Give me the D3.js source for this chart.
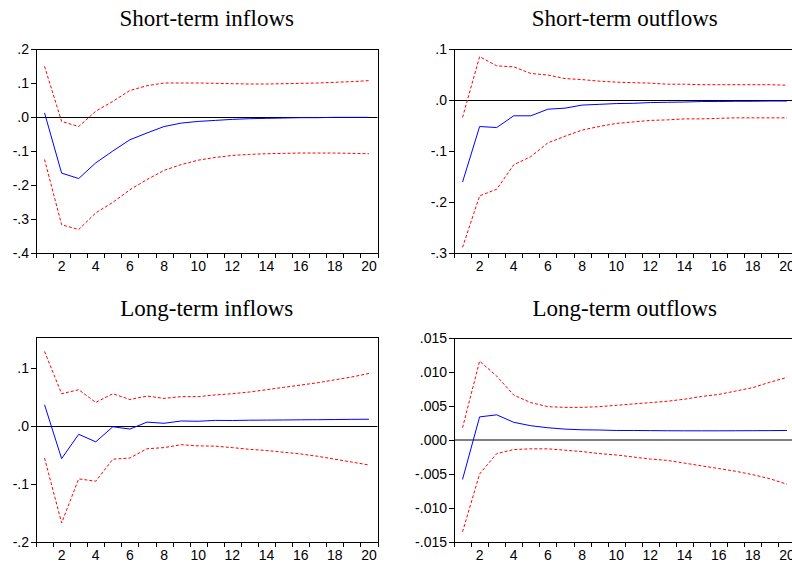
<!DOCTYPE html>
<html>
<head>
<meta charset="utf-8">
<title>Impulse responses</title>
<script src="https://d3js.org/d3.v7.min.js"></script>
<style>
  body { margin: 0; background: #fff; }
  svg { display: block; }
  .tick text { font-family: "Liberation Sans", Arial, sans-serif; font-size: 14px; fill: #000; }
  .tick line { shape-rendering: crispEdges; }
  .title { font-family: "Liberation Serif", "Times New Roman", serif; font-size: 23px; fill: #000; }
</style>
</head>
<body>
<div id="chart"></div>
<script>
// periods 1..20
const periods = d3.range(1, 21);

// Short-term inflows
const stInResp = [0.012, -0.165, -0.181, -0.135, -0.100, -0.067, -0.047, -0.028, -0.018, -0.013, -0.010, -0.007, -0.005, -0.004, -0.003, -0.002, -0.002, -0.001, -0.001, -0.001];
const stInUpper = [0.149, -0.013, -0.028, 0.017, 0.046, 0.078, 0.092, 0.100, 0.100, 0.100, 0.099, 0.098, 0.097, 0.097, 0.098, 0.099, 0.100, 0.102, 0.104, 0.107];
const stInLower = [-0.125, -0.317, -0.331, -0.282, -0.251, -0.214, -0.184, -0.157, -0.140, -0.127, -0.119, -0.113, -0.110, -0.108, -0.107, -0.106, -0.106, -0.106, -0.107, -0.108];

// Short-term outflows
const stOutResp = [-0.161, -0.052, -0.054, -0.031, -0.031, -0.018, -0.016, -0.010, -0.0085, -0.007, -0.0065, -0.005, -0.0045, -0.004, -0.003, -0.003, -0.0025, -0.0025, -0.002, -0.002];
const stOutUpper = [-0.034, 0.085, 0.067, 0.065, 0.052, 0.049, 0.042, 0.040, 0.037, 0.035, 0.034, 0.033, 0.031, 0.031, 0.030, 0.030, 0.030, 0.030, 0.030, 0.029];
const stOutLower = [-0.289, -0.188, -0.175, -0.127, -0.111, -0.084, -0.071, -0.059, -0.052, -0.046, -0.043, -0.040, -0.039, -0.037, -0.037, -0.036, -0.035, -0.035, -0.035, -0.035];

// Long-term inflows
const ltInResp = [0.037, -0.056, -0.014, -0.027, -0.001, -0.005, 0.007, 0.005, 0.009, 0.0085, 0.010, 0.0098, 0.0103, 0.0105, 0.0107, 0.011, 0.0112, 0.0115, 0.0118, 0.012];
const ltInUpper = [0.129, 0.056, 0.063, 0.041, 0.056, 0.046, 0.052, 0.048, 0.051, 0.051, 0.054, 0.056, 0.059, 0.063, 0.067, 0.071, 0.075, 0.080, 0.085, 0.091];
const ltInLower = [-0.055, -0.167, -0.091, -0.095, -0.057, -0.055, -0.039, -0.037, -0.032, -0.034, -0.0345, -0.037, -0.040, -0.042, -0.045, -0.048, -0.052, -0.057, -0.062, -0.067];

// Long-term outflows
const ltOutResp = [-0.0058, 0.0034, 0.0037, 0.0026, 0.0021, 0.0018, 0.0016, 0.0015, 0.00147, 0.0014, 0.0014, 0.00138, 0.00136, 0.00135, 0.00135, 0.00135, 0.00136, 0.00137, 0.00138, 0.0014];
const ltOutUpper = [0.0018, 0.0116, 0.0094, 0.0066, 0.0055, 0.0049, 0.0048, 0.0048, 0.0049, 0.0051, 0.0053, 0.0055, 0.0057, 0.0060, 0.0064, 0.0067, 0.0072, 0.0077, 0.0085, 0.0092];
const ltOutLower = [-0.0135, -0.0050, -0.0020, -0.0014, -0.0013, -0.0013, -0.0015, -0.0017, -0.0020, -0.0022, -0.0025, -0.0028, -0.0030, -0.0034, -0.0038, -0.0042, -0.0046, -0.0051, -0.0057, -0.0065];

const width = 792, height = 565;
const svg = d3.select("#chart").append("svg")
    .attr("width", width)
    .attr("height", height);

const panels = [
  { title: "Short-term inflows", resp: stInResp, upper: stInUpper, lower: stInLower,
    domain: [-0.4, 0.2], ticks: [-0.4, -0.3, -0.2, -0.1, 0, 0.1, 0.2], fmt: ".1f",
    x0: 36, y0: 49, y1: 253, titleY: 26, zero: "#000", zeroW: 1 },
  { title: "Short-term outflows", resp: stOutResp, upper: stOutUpper, lower: stOutLower,
    domain: [-0.3, 0.1], ticks: [-0.3, -0.2, -0.1, 0, 0.1], fmt: ".1f",
    x0: 454, y0: 49, y1: 253, titleY: 26, zero: "#000", zeroW: 1 },
  { title: "Long-term inflows", resp: ltInResp, upper: ltInUpper, lower: ltInLower,
    domain: [-0.2, 0.154], ticks: [-0.2, -0.1, 0, 0.1], fmt: ".1f",
    x0: 36, y0: 337, y1: 542, titleY: 315.5, zero: "#000", zeroW: 1 },
  { title: "Long-term outflows", resp: ltOutResp, upper: ltOutUpper, lower: ltOutLower,
    domain: [-0.015, 0.015], ticks: [-0.015, -0.010, -0.005, 0, 0.005, 0.010, 0.015], fmt: ".3f",
    x0: 454, y0: 338, y1: 542, titleY: 315.5, zero: "#808080", zeroW: 2 }
];

const plotW = 341.5;

// EViews-style labels: ".2", "-.1", ".000"
function fmtTick(f) {
  return v => {
    let s = d3.format(f)(Math.abs(v) < 1e-12 ? 0 : v).replace("\u2212", "-");
    return s.replace(/^(-?)0\./, "$1.");
  };
}

panels.forEach(p => {
  const g = svg.append("g");

  const x = d3.scaleBand()
      .domain(periods)
      .range([p.x0, p.x0 + plotW]);

  const y = d3.scaleLinear()
      .domain(p.domain)
      .range([p.y1, p.y0]);

  const cx = d => x(d) + x.bandwidth() / 2;

  // title
  g.append("text")
      .attr("class", "title")
      .attr("x", p.x0 + plotW / 2)
      .attr("y", p.titleY)
      .attr("text-anchor", "middle")
      .text(p.title);

  // zero line
  const zy = Math.round(y(0)) + (p.zeroW === 1 ? 0.5 : 0);
  g.append("line")
      .attr("x1", p.x0).attr("x2", p.x0 + plotW)
      .attr("y1", zy).attr("y2", zy)
      .attr("stroke", p.zero)
      .attr("stroke-width", p.zeroW);

  const line = d3.line()
      .x((d, i) => cx(periods[i]))
      .y(d => y(d));

  g.append("path").datum(p.upper)
      .attr("d", line).attr("fill", "none")
      .attr("stroke", "#ff0000").attr("stroke-width", 1)
      .attr("stroke-dasharray", "3,2");
  g.append("path").datum(p.lower)
      .attr("d", line).attr("fill", "none")
      .attr("stroke", "#ff0000").attr("stroke-width", 1)
      .attr("stroke-dasharray", "3,2");
  g.append("path").datum(p.resp)
      .attr("d", line).attr("fill", "none")
      .attr("stroke", "#0000ff").attr("stroke-width", 1);

  // frame
  g.append("rect")
      .attr("x", p.x0 + 0.5).attr("y", p.y0 + 0.5)
      .attr("width", plotW).attr("height", p.y1 - p.y0)
      .attr("fill", "none").attr("stroke", "#000").attr("stroke-width", 1)
      .attr("shape-rendering", "crispEdges");

  // y axis
  const yAxis = d3.axisLeft(y)
      .tickValues(p.ticks)
      .tickSize(5)
      .tickPadding(2)
      .tickFormat(fmtTick(p.fmt));
  g.append("g")
      .attr("transform", `translate(${p.x0},0)`)
      .call(yAxis)
      .call(a => a.select(".domain").remove());

  // x axis: ticks at band edges, labels at even period centres
  const edges = d3.range(0, 21).map(i => Math.round(p.x0 + i * x.step()) + 0.5);
  g.selectAll(null).data(edges).enter().append("line")
      .attr("x1", d => d).attr("x2", d => d)
      .attr("y1", p.y1).attr("y2", p.y1 + 5)
      .attr("stroke", "#000")
      .attr("shape-rendering", "crispEdges");

  const xAxis = d3.axisBottom(x)
      .tickValues(periods.filter(d => d % 2 === 0))
      .tickSize(0)
      .tickPadding(8);
  g.append("g")
      .attr("transform", `translate(0,${p.y1})`)
      .call(xAxis)
      .call(a => a.select(".domain").remove());
});
</script>
</body>
</html>
